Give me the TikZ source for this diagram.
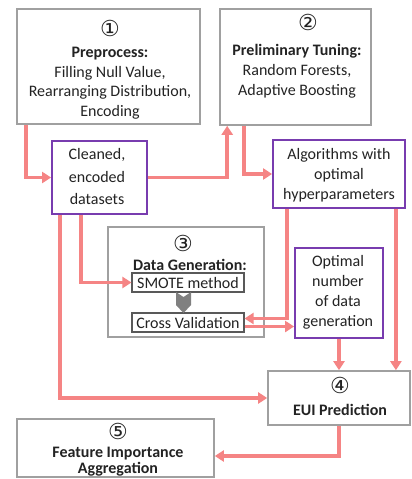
\documentclass[tikz,border=0pt]{standalone}
\usepackage{fontspec}
\setmainfont{Carlito}
\newfontfamily\circfont{DejaVu Sans}
\usetikzlibrary{arrows.meta}
\definecolor{flowpink}{RGB}{245,132,132}
\definecolor{boxpurple}{RGB}{120,60,175}
\definecolor{boxgray}{RGB}{160,160,160}
\definecolor{chevgray}{RGB}{128,128,128}
\definecolor{inkgray}{RGB}{35,35,35}
\begin{document}
\begin{tikzpicture}[x=1pt,y=-1pt,
  stagebox/.style={draw=boxgray, line width=1.6pt, fill=white, inner sep=0pt},
  resultbox/.style={draw=boxpurple, line width=1.8pt, fill=white, inner sep=0pt},
  subbox/.style={draw=black!65, line width=1.1pt, fill=white, inner sep=0pt,
    text=inkgray, font=\fontsize{16}{20}\selectfont},
  txt/.style={align=center, inner sep=0pt, text=inkgray, font=\fontsize{16}{20}\selectfont},
  num/.style={inner sep=0pt, text=inkgray, font=\circfont\fontsize{22}{22}\selectfont},
  flow/.style={draw=flowpink, line width=3.5pt, -{Triangle[length=9pt,width=11pt]}}
]
\useasboundingbox (0,0) rectangle (412,479);

% boxes
\node[stagebox, minimum width=183, minimum height=115] (pre) at (108.5,66.5) {};
\node[stagebox, minimum width=151, minimum height=116] (tune) at (295.5,67) {};
\node[resultbox, minimum width=95, minimum height=73] (clean) at (99.5,177.5) {};
\node[resultbox, minimum width=132, minimum height=68] (algo) at (339,174) {};
\node[stagebox, minimum width=156, minimum height=110] (gen) at (186,282) {};
\node[resultbox, minimum width=88, minimum height=90] (opt) at (339,293) {};
\node[stagebox, minimum width=142, minimum height=54] (eui) at (339,398) {};
\node[stagebox, minimum width=197, minimum height=58] (fia) at (115.5,448) {};

% stage 1
\node[num] (n1) at (110,28) {①};
\node[txt, font=\fontsize{16}{19.5}\selectfont] (pre-t) at (110,83) {\textbf{Preprocess:}\\Filling Null Value,\\Rearranging Distribution,\\Encoding};
% stage 2
\node[num] (n2) at (308,22) {②};
\node[txt] (tune-t) at (297,71) {\textbf{Preliminary Tuning:}\\Random Forests,\\Adaptive Boosting};
% intermediate results
\node[txt, font=\fontsize{16}{22.5}\selectfont] (clean-t) at (97,177) {Cleaned,\\encoded\\datasets};
\node[txt] (algo-t) at (339,175) {Algorithms with\\optimal\\hyperparameters};
\node[txt] (opt-t) at (338,292.5) {Optimal\\number\\of data\\generation};
% stage 3
\node[num] (n3) at (183,243) {③};
\node[txt] (gen-t) at (190,265) {\textbf{Data Generation:}};
\node[subbox, minimum width=112, minimum height=19] (smote) at (188,282.5) {SMOTE method};
\node[subbox, minimum width=112, minimum height=19] (cv) at (188,322.5) {Cross Validation};
\fill[chevgray] (176,292) -- (183.5,297) -- (191,292) -- (191,305) -- (183.5,313) -- (176,305) -- cycle;
% stage 4
\node[num] (n4) at (340,385) {④};
\node[txt] (eui-t) at (340,410) {\textbf{EUI Prediction}};
% stage 5
\node[num] (n5) at (118,431) {⑤};
\node[txt, font=\fontsize{16}{16}\selectfont] (fia-t) at (118,461.5) {\textbf{Feature Importance}\\\textbf{Aggregation}};

% connectors
\draw[flow] ([xshift=10pt]pre.south west) |- (clean.west);
\draw[flow] (clean.east) -| ([xshift=8pt]tune.south west);
\draw[flow] ([xshift=25pt]tune.south west) |- (algo.west);
\draw[flow] ([xshift=30pt]clean.south west) |- (smote.west);
\draw[flow] ([xshift=9pt]clean.south west) |- (eui.west);
\draw[flow] ([xshift=15pt]algo.south west) |- ([yshift=4pt]cv.east);
\draw[flow] ([yshift=-4pt]cv.east) -- ([yshift=-4pt]cv.east -| opt.west);
\draw[flow] ([xshift=-10pt]algo.south east) -- ([xshift=-10pt]algo.south east |- eui.north);
\draw[flow] (opt.south) -- (opt.south |- eui.north);
\draw[flow] (eui.south) |- ([yshift=-8pt]fia.east);
\end{tikzpicture}
\end{document}
